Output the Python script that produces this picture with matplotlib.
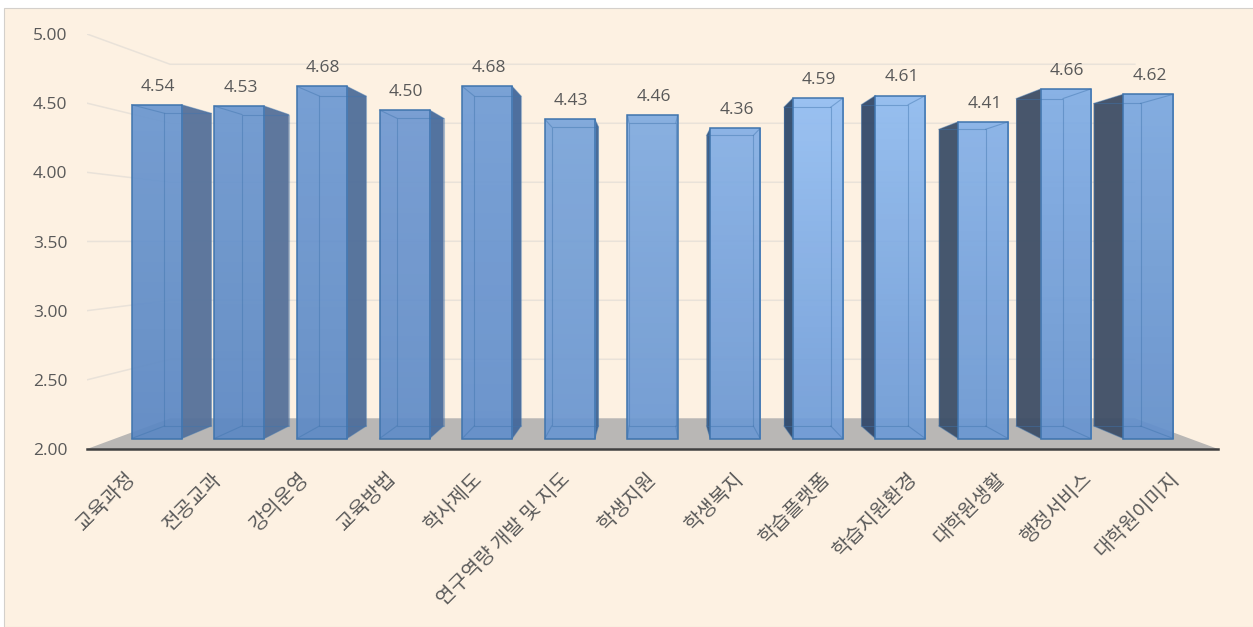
import matplotlib
matplotlib.use("Agg")
import matplotlib.pyplot as plt
import numpy as np
from matplotlib.colors import LinearSegmentedColormap
from matplotlib.patches import Polygon, Rectangle
from matplotlib.transforms import ScaledTranslation

plt.rcParams['font.family'] = ['Noto Sans CJK KR', 'DejaVu Sans']

categories = ["교육과정", "전공교과", "강의운영", "교육방법", "학사제도", "연구역량 개발 및 지도", "학생지원",
              "학생복지", "학습플랫폼", "학습지원환경", "대학원생활", "행정서비스", "대학원이미지"]
values = [4.54, 4.53, 4.68, 4.50, 4.68, 4.43, 4.46, 4.36, 4.59, 4.61, 4.41, 4.66, 4.62]
y_ticks = [2.00, 2.50, 3.00, 3.50, 4.00, 4.50, 5.00]

BG = "#fdf1e2"
TEXT = "#595959"
top_colors = ["#6b97d0", "#6b97d0", "#6e9ad3", "#7099d2", "#709cd5", "#7aa5db", "#80abe0",
              "#84afe6", "#93bef3", "#8fbbf0", "#85b1e8", "#80ade6", "#7ba8e0"]
bottom_colors = ["#5c88c4", "#5c88c4", "#5e8ac6", "#608cc8", "#628ecb", "#6a96d0", "#6c98d2",
                 "#6c98d3", "#6f9cd8", "#6d9ad6", "#6a97d3", "#6794d0", "#6390cc"]
side_colors = ["#55719a", "#55719a", "#4f6e9a", "#4a6c9c", "#44689b", "#3f6595", "#3f6595",
               "#35567f", "#2f4a6d", "#33496a", "#3c4f68", "#3e4e66", "#3e4e66"]

# depth of each plane, 1 is the plane of the axis labels
K_WALL, K_FRONT, K_BACK = 0.853, 0.95, 0.89
VX, VY = 6.0, 3.511
HALF = 0.3025


def project(x, y, k):
    return VX + k * (x - VX), VY + k * (y - VY)


def box(x0, x1, y0, y1, k):
    return [project(x0, y0, k), project(x1, y0, k), project(x1, y1, k), project(x0, y1, k)]


W, H = 1253, 627
fig = plt.figure(figsize=(W / 100, H / 100), dpi=100, facecolor="white")
fig.add_artist(Rectangle((4 / W, 0), 1.1, 619 / H, transform=fig.transFigure,
                         facecolor=BG, edgecolor="#d4d0cb", lw=0.8, zorder=-1))

ax = fig.add_axes([87 / W, 1 - 449 / H, (1218 - 87) / W, (449 - 34) / H])
ax.patch.set_alpha(0)
x_min, x_max = -0.5, len(categories) - 0.5
y_min, y_max = y_ticks[0], y_ticks[-1]

# floor
ax.add_patch(Polygon([(x_min, y_min), (x_max, y_min), project(x_max, y_min, K_WALL),
                      project(x_min, y_min, K_WALL)], facecolor="#b9b7b5", edgecolor="none", zorder=1))

# gridlines, running along the side wall and then the back wall
for t in y_ticks[1:]:
    bx0, by = project(x_min, t, K_WALL)
    bx1, _ = project(x_max, t, K_WALL)
    ax.plot([x_min, bx0, bx1], [t, by, by], color="#e9e2d9", lw=1.1, zorder=1.5)

for i, v in enumerate(values):
    z = 2 + abs(i - 6) * 0.01
    fx0, fy0 = project(i - HALF, y_min, K_FRONT)
    fx1, fy1 = project(i + HALF, v, K_FRONT)
    back = box(i - HALF, i + HALF, y_min, v, K_BACK)
    front = box(i - HALF, i + HALF, y_min, v, K_FRONT)

    # visible side face
    if i != 6:
        a, b = (1, 2) if i < 6 else (0, 3)
        ax.add_patch(Polygon([front[a], back[a], back[b], front[b]], facecolor=side_colors[i],
                             edgecolor="none", alpha=0.95, zorder=z))

    cmap = LinearSegmentedColormap.from_list("bar", [bottom_colors[i], top_colors[i]])
    ax.imshow(np.linspace(1, 0, 64).reshape(-1, 1), cmap=cmap, extent=[fx0, fx1, fy0, fy1],
              aspect="auto", alpha=0.93, zorder=z + 0.001)
    ax.add_patch(Polygon(front, facecolor="none", edgecolor="#3f74ad", lw=1.1, zorder=z + 0.003))

    # back edges seen through the bar
    ax.add_patch(Polygon(back, facecolor="none", edgecolor="#3f74ad", lw=0.8, alpha=0.45, zorder=z + 0.002))
    for p, q in zip(front, back):
        ax.plot([p[0], q[0]], [p[1], q[1]], color="#3f74ad", lw=0.8, alpha=0.45, zorder=z + 0.002)

    ax.annotate(f"{v:.2f}", project(i, v, K_FRONT), xytext=(1, 13), textcoords="offset points",
                ha="center", va="center", fontsize=12.5, color=TEXT, family=["Open Sans", "DejaVu Sans"],
                zorder=5)

ax.set_xlim(x_min, x_max)
ax.set_ylim(y_min, y_max)
for name in ["top", "right", "left"]:
    ax.spines[name].set_visible(False)
ax.spines["bottom"].set_color("#404040")
ax.spines["bottom"].set_linewidth(1.8)
ax.spines["bottom"].set_zorder(6)

ax.set_yticks(y_ticks)
ax.set_yticklabels([f"{t:.2f}" for t in y_ticks], fontsize=12.5, color=TEXT, family=["Open Sans", "DejaVu Sans"])
ax.set_xticks(range(len(categories)))
ax.set_xticklabels(categories, rotation=45, ha="right", va="top", rotation_mode="anchor",
                   fontsize=14.4, color=TEXT)
ax.tick_params(axis="both", length=0)
ax.tick_params(axis="y", pad=14)
ax.tick_params(axis="x", pad=14)

# the rotated labels sit a little left of their ticks
shift = ScaledTranslation(-6 / 100, 0, fig.dpi_scale_trans)
for label in ax.get_xticklabels():
    label.set_transform(label.get_transform() + shift)

fig.savefig("out.png", dpi=100, facecolor=fig.get_facecolor())
